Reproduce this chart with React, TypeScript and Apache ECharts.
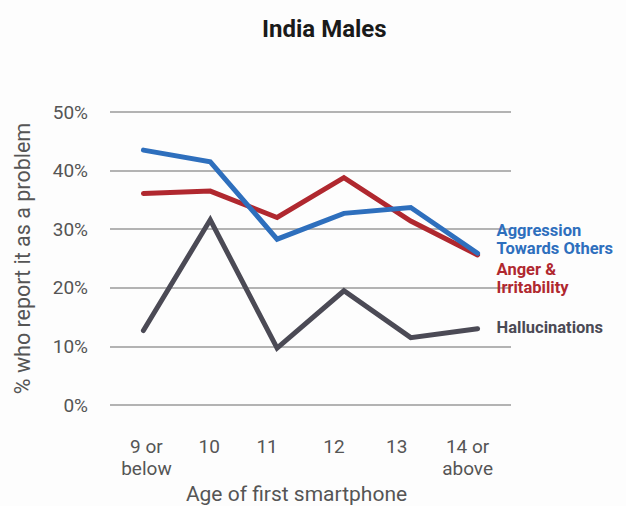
import React, { useEffect, useRef } from "react";
import * as echarts from "echarts";

const categories = ["9 or\nbelow", "10", "11", "12", "13", "14 or\nabove"];
const aggression = [43.5, 41.5, 28.3, 32.7, 33.7, 25.9];
const anger = [36.1, 36.5, 32.0, 38.8, 31.4, 25.6];
const hallucinations = [12.7, 31.6, 9.7, 19.5, 11.5, 13.0];
const yTicks = [0, 10, 20, 30, 40, 50];

// horizontal nudges of the category labels (style only)
const labelShift = [3, -1, -10, -10, -14, -10];

const FONT = "Roboto";

export default function App() {
  const ref = useRef<HTMLDivElement>(null);
  useEffect(() => {
    if (!ref.current) return;
    const chart = echarts.init(ref.current, null, { renderer: "svg" });
    const mk = (name: string, data: number[], color: string, label: string, offset: number[]) => ({
      name,
      type: "line",
      data,
      symbol: "none",
      lineStyle: { color, width: 5, cap: "round", join: "miter" },
      itemStyle: { color },
      endLabel: {
        show: true,
        formatter: label,
        color,
        fontFamily: FONT,
        fontWeight: "bold",
        fontSize: 16.5,
        lineHeight: 18,
        align: "left",
        verticalAlign: "middle",
        offset,
      },
    });
    const rich: Record<string, any> = {};
    labelShift.forEach((s, i) => {
      rich["c" + i] = {
        fontFamily: FONT,
        fontSize: 19,
        color: "#555",
        lineHeight: 22,
        padding: s >= 0 ? [0, 0, 0, 2 * s] : [0, -2 * s, 0, 0],
      };
    });
    chart.setOption({
      animation: false,
      backgroundColor: "#fdfdfd",
      title: {
        text: "India Males",
        left: 257,
        top: 12,
        textStyle: { fontFamily: FONT, fontWeight: "bold", fontSize: 24, color: "#1a1a1a" },
      },
      grid: { left: 110, right: 115, top: 112, bottom: 101, outerBoundsMode: "none" },
      xAxis: {
        type: "category",
        data: categories,
        boundaryGap: true,
        axisLine: { show: false },
        axisTick: { show: false },
        axisLabel: {
          interval: 0,
          hideOverlap: false,
          fontFamily: FONT,
          fontSize: 19,
          color: "#555",
          lineHeight: 22,
          margin: 30,
          formatter: (v: string, i: number) =>
            v.split("\n").map((line) => `{c${i}|${line}}`).join("\n"),
          rich,
        },
        name: "Age of first smartphone",
        nameLocation: "middle",
        nameGap: 77,
        nameTextStyle: { fontFamily: FONT, fontSize: 21, color: "#555", padding: [0, 28, 0, 0] },
      },
      yAxis: {
        type: "value",
        min: yTicks[0],
        max: yTicks[yTicks.length - 1],
        interval: 10,
        axisLine: { show: false },
        axisTick: { show: false },
        splitLine: { lineStyle: { color: "#9a9a9a", width: 1.5 } },
        axisLabel: { fontFamily: FONT, fontSize: 19, color: "#555", formatter: "{value}%", margin: 22 },
        name: "% who report it as a problem",
        nameLocation: "middle",
        nameGap: 77,
        nameTextStyle: { fontFamily: FONT, fontSize: 21.5, color: "#555" },
      },
      series: [
        mk("Hallucinations", hallucinations, "#4b4a55", "Hallucinations", [11, -1]),
        mk("Anger & Irritability", anger, "#b0282f", "Anger &\nIrritability", [11, 23.5]),
        mk("Aggression Towards Others", aggression, "#2e6fbd", "Aggression\nTowards Others", [11, -13.7]),
      ],
    });
    return () => chart.dispose();
  }, []);
  return <div ref={ref} style={{ width: 626, height: 506, position: "absolute", left: 0, top: 0 }} />;
}
